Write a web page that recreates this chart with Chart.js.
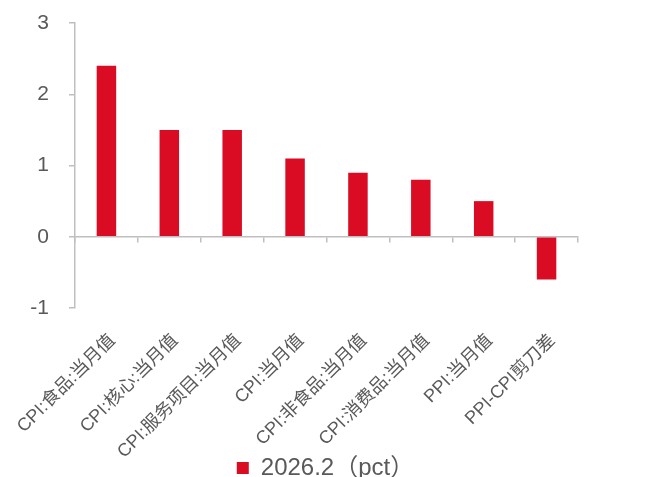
<!DOCTYPE html>
<html>
<head>
<meta charset="utf-8">
<script src="https://cdn.jsdelivr.net/npm/chart.js@4"></script>
<style>
  html, body { margin: 0; padding: 0; background: #fff; }
  #wrap { width: 646px; height: 477px; }
</style>
</head>
<body>
<div id="wrap"><canvas id="c" width="646" height="477"></canvas></div>
<script>
const categories = [
  "CPI:食品:当月值", "CPI:核心:当月值", "CPI:服务项目:当月值", "CPI:当月值",
  "CPI:非食品:当月值", "CPI:消费品:当月值", "PPI:当月值", "PPI-CPI剪刀差"
]
const values = [2.4, 1.5, 1.5, 1.1, 0.9, 0.8, 0.5, -0.6]
const seriesName = "2026.2（pct）"
const yTicks = [-1, 0, 1, 2, 3]

const axisColor = "#bfbfbf"
const textColor = "#595959"
const fontFamily = "'Liberation Sans', Arial, 'Noto Sans CJK SC', sans-serif"

const ctx = document.getElementById("c").getContext("2d")
new Chart(ctx, {
  type: "bar",
  data: {
    labels: categories,
    datasets: [{
      label: seriesName,
      data: values,
      backgroundColor: "#d90c24",
      borderWidth: 0,
      barPercentage: 0.31,
      categoryPercentage: 1.0,
      xAxisID: "x"
    }]
  },
  options: {
    responsive: false,
    animation: false,
    layout: { padding: { top: 0, right: 0, left: 5, bottom: -13 } },
    plugins: {
      tooltip: { enabled: false },
      legend: {
        position: "bottom",
        labels: {
          boxWidth: 12,
          boxHeight: 12,
          color: textColor,
          font: { family: fontFamily, size: 24 },
          padding: 6
        }
      }
    },
    scales: {
      x: {
        type: "category",
        position: "bottom",
        offset: true,
        grid: { display: false },
        border: { display: false },
        afterFit: (axis) => {
          axis.height = 142
          axis.paddingLeft = 0
          axis.paddingRight = 0
          // let the long rotated labels run past the axis box
          axis._computeLabelArea = () => undefined
        },
        ticks: {
          color: textColor,
          font: { family: fontFamily, size: 18 },
          maxRotation: 45,
          minRotation: 45,
          autoSkip: false,
          padding: 14,
          labelOffset: 6
        }
      },
      x0: {
        type: "category",
        position: { y: 0 },
        offset: true,
        grid: {
          display: true,
          offset: true,
          drawOnChartArea: false,
          drawTicks: true,
          tickLength: 5,
          color: axisColor,
          lineWidth: 1.5
        },
        border: { display: true, color: axisColor, width: 1.5 },
        ticks: { display: false }
      },
      y: {
        min: -1,
        max: 3,
        afterBuildTicks: (axis) => { axis.ticks = yTicks.map(v => ({ value: v })) },
        afterFit: (axis) => { axis.width = 70; axis.paddingTop = 23; axis.paddingBottom = 12 },
        grid: {
          display: true,
          drawOnChartArea: false,
          drawTicks: true,
          tickLength: 6,
          color: axisColor,
          lineWidth: 1.5
        },
        border: { display: true, color: axisColor, width: 1.5 },
        ticks: {
          color: textColor,
          font: { family: fontFamily, size: 21 },
          padding: 20
        }
      },
      // empty right-hand box, keeps the plot narrower than the legend row
      yPad: {
        position: "right",
        min: -1,
        max: 3,
        grid: { display: false },
        border: { display: false },
        ticks: { display: false },
        afterFit: (axis) => { axis.width = 68 }
      }
    }
  }
})
</script>
</body>
</html>
